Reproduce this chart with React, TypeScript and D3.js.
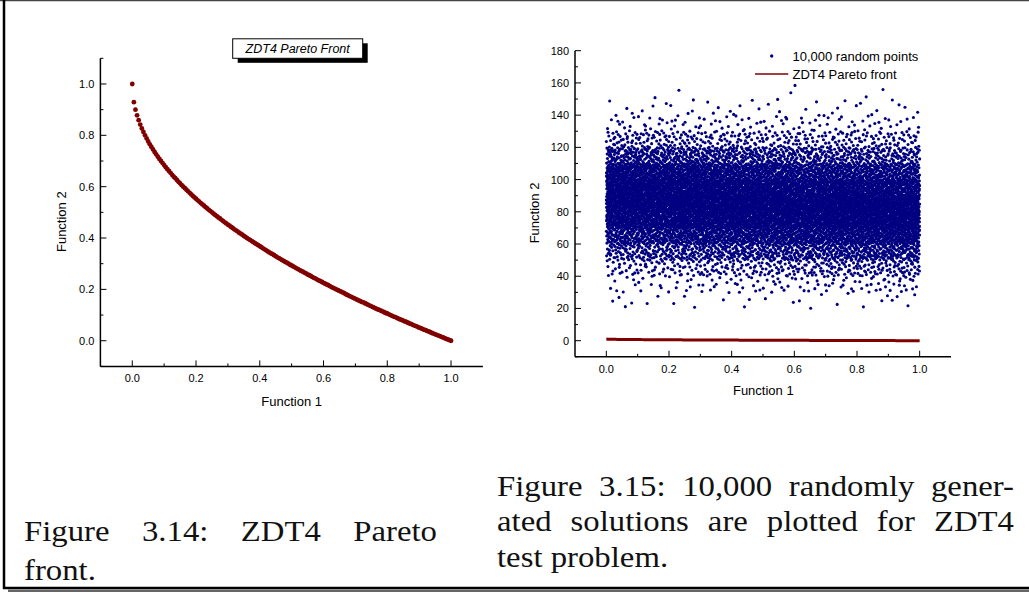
import React from "react";
import * as d3 from "d3";

// ZDT4 Pareto front (one dot every 0.005 in Function 1)
const FRONT_F1 = [
  0, 0.005, 0.01, 0.015, 0.02, 0.025, 0.03, 0.035, 0.04, 0.045, 0.05, 0.055,
  0.06, 0.065, 0.07, 0.075, 0.08, 0.085, 0.09, 0.095, 0.1, 0.105, 0.11, 0.115,
  0.12, 0.125, 0.13, 0.135, 0.14, 0.145, 0.15, 0.155, 0.16, 0.165, 0.17, 0.175,
  0.18, 0.185, 0.19, 0.195, 0.2, 0.205, 0.21, 0.215, 0.22, 0.225, 0.23, 0.235,
  0.24, 0.245, 0.25, 0.255, 0.26, 0.265, 0.27, 0.275, 0.28, 0.285, 0.29, 0.295,
  0.3, 0.305, 0.31, 0.315, 0.32, 0.325, 0.33, 0.335, 0.34, 0.345, 0.35, 0.355,
  0.36, 0.365, 0.37, 0.375, 0.38, 0.385, 0.39, 0.395, 0.4, 0.405, 0.41, 0.415,
  0.42, 0.425, 0.43, 0.435, 0.44, 0.445, 0.45, 0.455, 0.46, 0.465, 0.47, 0.475,
  0.48, 0.485, 0.49, 0.495, 0.5, 0.505, 0.51, 0.515, 0.52, 0.525, 0.53, 0.535,
  0.54, 0.545, 0.55, 0.555, 0.56, 0.565, 0.57, 0.575, 0.58, 0.585, 0.59, 0.595,
  0.6, 0.605, 0.61, 0.615, 0.62, 0.625, 0.63, 0.635, 0.64, 0.645, 0.65, 0.655,
  0.66, 0.665, 0.67, 0.675, 0.68, 0.685, 0.69, 0.695, 0.7, 0.705, 0.71, 0.715,
  0.72, 0.725, 0.73, 0.735, 0.74, 0.745, 0.75, 0.755, 0.76, 0.765, 0.77, 0.775,
  0.78, 0.785, 0.79, 0.795, 0.8, 0.805, 0.81, 0.815, 0.82, 0.825, 0.83, 0.835,
  0.84, 0.845, 0.85, 0.855, 0.86, 0.865, 0.87, 0.875, 0.88, 0.885, 0.89, 0.895,
  0.9, 0.905, 0.91, 0.915, 0.92, 0.925, 0.93, 0.935, 0.94, 0.945, 0.95, 0.955,
  0.96, 0.965, 0.97, 0.975, 0.98, 0.985, 0.99, 0.995, 1.0,
];
const FRONT_F2 = [
  1.0, 0.929, 0.9, 0.878, 0.859, 0.842, 0.827, 0.813, 0.8, 0.788, 0.776, 0.765,
  0.755, 0.745, 0.735, 0.726, 0.717, 0.708, 0.7, 0.692, 0.684, 0.676, 0.668,
  0.661, 0.654, 0.646, 0.639, 0.633, 0.626, 0.619, 0.613, 0.606, 0.6, 0.594,
  0.588, 0.582, 0.576, 0.57, 0.564, 0.558, 0.553, 0.547, 0.542, 0.536, 0.531,
  0.526, 0.52, 0.515, 0.51, 0.505, 0.5, 0.495, 0.49, 0.485, 0.48, 0.476, 0.471,
  0.466, 0.461, 0.457, 0.452, 0.448, 0.443, 0.439, 0.434, 0.43, 0.426, 0.421,
  0.417, 0.413, 0.408, 0.404, 0.4, 0.396, 0.392, 0.388, 0.384, 0.38, 0.376,
  0.372, 0.368, 0.364, 0.36, 0.356, 0.352, 0.348, 0.344, 0.34, 0.337, 0.333,
  0.329, 0.325, 0.322, 0.318, 0.314, 0.311, 0.307, 0.304, 0.3, 0.296, 0.293,
  0.289, 0.286, 0.282, 0.279, 0.275, 0.272, 0.269, 0.265, 0.262, 0.258, 0.255,
  0.252, 0.248, 0.245, 0.242, 0.238, 0.235, 0.232, 0.229, 0.225, 0.222, 0.219,
  0.216, 0.213, 0.209, 0.206, 0.203, 0.2, 0.197, 0.194, 0.191, 0.188, 0.185,
  0.181, 0.178, 0.175, 0.172, 0.169, 0.166, 0.163, 0.16, 0.157, 0.154, 0.151,
  0.149, 0.146, 0.143, 0.14, 0.137, 0.134, 0.131, 0.128, 0.125, 0.122, 0.12,
  0.117, 0.114, 0.111, 0.108, 0.106, 0.103, 0.1, 0.097, 0.094, 0.092, 0.089,
  0.086, 0.083, 0.081, 0.078, 0.075, 0.073, 0.07, 0.067, 0.065, 0.062, 0.059,
  0.057, 0.054, 0.051, 0.049, 0.046, 0.043, 0.041, 0.038, 0.036, 0.033, 0.03,
  0.028, 0.025, 0.023, 0.02, 0.018, 0.015, 0.013, 0.01, 0.007, 0.005, 0.002,
  0.0,
];

// 10,000 random points: estimated counts per cell
// one row per Function 1 bin (width 0.1), one column per Function 2 band (width 10)
const X_BINS = [0, 0.1, 0.2, 0.3, 0.4, 0.5, 0.6, 0.7, 0.8, 0.9];
const Y_BANDS = [20, 30, 40, 50, 60, 70, 80, 90, 100, 110, 120, 130, 140, 150];
const CELL_COUNTS = [
  [4, 6, 20, 52, 100, 158, 192, 192, 152, 78, 32, 10, 3, 1],
  [3, 7, 22, 56, 106, 162, 190, 186, 146, 76, 31, 11, 3, 1],
  [2, 8, 25, 60, 112, 166, 190, 180, 140, 72, 30, 10, 4, 1],
  [2, 9, 27, 64, 118, 170, 190, 175, 134, 69, 29, 9, 4, 0],
  [3, 10, 29, 68, 122, 174, 190, 170, 128, 66, 27, 9, 4, 0],
  [2, 11, 31, 72, 126, 177, 190, 166, 123, 63, 26, 9, 3, 1],
  [3, 11, 33, 76, 130, 180, 189, 162, 118, 60, 25, 9, 3, 1],
  [2, 12, 35, 79, 134, 182, 188, 158, 114, 58, 25, 9, 3, 1],
  [2, 13, 37, 82, 138, 184, 186, 154, 110, 56, 25, 9, 3, 1],
  [4, 14, 39, 85, 141, 185, 184, 150, 106, 54, 25, 9, 3, 1],
];

const LEFT_X_TICKS = [0, 0.2, 0.4, 0.6, 0.8, 1.0];
const LEFT_Y_TICKS = [0, 0.2, 0.4, 0.6, 0.8, 1.0];
const RIGHT_X_TICKS = [0, 0.2, 0.4, 0.6, 0.8, 1.0];
const RIGHT_Y_TICKS = [0, 20, 40, 60, 80, 100, 120, 140, 160, 180];

const SANS = "Liberation Sans, Arial, sans-serif";
const SERIF_NAME = "Liberation Serif";
const RED = "#800000";
const NAVY = "#000080";

// van der Corput / Halton radical inverse, used to lay the counted points out
// evenly inside their Function 1 column
function halton(i: number, b: number) {
  let f = 1;
  let r = 0;
  while (i > 0) {
    f /= b;
    r += f * (i % b);
    i = Math.floor(i / b);
  }
  return r;
}

const scatterPoints: { x: number; y: number }[] = [];
CELL_COUNTS.forEach((row, i) => {
  const total = d3.sum(row);
  const cum = [0, ...d3.cumsum(row)];
  for (let k = 0; k < total; k++) {
    const idx = k + 1 + i * total + 17;
    const u = halton(idx, 2);
    const t = halton(idx, 3) * total;
    let j = 0;
    while (j < row.length - 1 && cum[j + 1] <= t) j++;
    const y = Y_BANDS[j] + (10 * (t - cum[j])) / Math.max(row[j], 1);
    scatterPoints.push({ x: X_BINS[i] + u * 0.1, y });
  }
});

const front = FRONT_F1.map((f1, i) => ({ x: f1, y: FRONT_F2[i] }));

// caption lines: words, left edge, right edge (justified) or null (ragged), baseline
const CAPTION_LINES: { words: string[]; x0: number; x1: number | null; y: number }[] = [
  { words: ["Figure", "3.14:", "ZDT4", "Pareto"], x0: 24, x1: 437, y: 541 },
  { words: ["front."], x0: 24, x1: null, y: 580 },
  { words: ["Figure", "3.15:", "10,000", "randomly", "gener-"], x0: 497, x1: 1014, y: 496 },
  { words: ["ated", "solutions", "are", "plotted", "for", "ZDT4"], x0: 497, x1: 1014, y: 531 },
  { words: ["test", "problem."], x0: 497, x1: null, y: 567 },
];
const CAPTION_SIZE = 29;
const CAPTION_STRETCH = 1.13;

type AxisProps = {
  x: d3.ScaleLinear<number, number>;
  y: d3.ScaleLinear<number, number>;
  xTicks: number[];
  yTicks: number[];
  xMinor: number[];
  yMinor: number[];
  fmtX: (v: number) => string;
  fmtY: (v: number) => string;
};

function Axes({ x, y, xTicks, yTicks, xMinor, yMinor, fmtX, fmtY }: AxisProps) {
  const [x0, x1] = x.range();
  const [y0, y1] = y.range();
  return (
    <g>
      <line x1={x0} x2={x0} y1={y0} y2={y1} stroke="#000" strokeWidth={1.5} />
      <line x1={x0} x2={x1} y1={y0} y2={y0} stroke="#000" strokeWidth={1.5} />
      {xTicks.map((t) => (
        <g key={"xt" + t}>
          <line x1={x(t)} x2={x(t)} y1={y0} y2={y0 - 6} stroke="#000" strokeWidth={1} />
          <text x={x(t)} y={y0 + 16} textAnchor="middle" fontSize={11} fontFamily={SANS}>
            {fmtX(t)}
          </text>
        </g>
      ))}
      {xMinor.map((t) => (
        <line key={"xm" + t} x1={x(t)} x2={x(t)} y1={y0} y2={y0 - 3} stroke="#000" strokeWidth={1} />
      ))}
      {yTicks.map((t) => (
        <g key={"yt" + t}>
          <line x1={x0} x2={x0 + 6} y1={y(t)} y2={y(t)} stroke="#000" strokeWidth={1} />
          <text x={x0 - 6} y={y(t) + 4} textAnchor="end" fontSize={11} fontFamily={SANS}>
            {fmtY(t)}
          </text>
        </g>
      ))}
      {yMinor.map((t) => (
        <line key={"ym" + t} x1={x0} x2={x0 + 3} y1={y(t)} y2={y(t)} stroke="#000" strokeWidth={1} />
      ))}
    </g>
  );
}

function Caption() {
  const ctx = document.createElement("canvas").getContext("2d");
  const font = `${CAPTION_SIZE}px "${SERIF_NAME}"`;
  if (ctx) ctx.font = font;
  const measure = (s: string) =>
    (ctx ? ctx.measureText(s).width : s.length * CAPTION_SIZE * 0.45) * CAPTION_STRETCH;
  const space = measure(" ");

  const placed: { w: string; x: number; y: number }[] = [];
  CAPTION_LINES.forEach((line) => {
    const widths = line.words.map(measure);
    const n = line.words.length;
    const gap =
      line.x1 !== null && n > 1
        ? (line.x1 - line.x0 - d3.sum(widths)) / (n - 1)
        : space;
    let cx = line.x0;
    line.words.forEach((w, i) => {
      placed.push({ w, x: cx, y: line.y });
      cx += widths[i] + gap;
    });
  });

  return (
    <g>
      {placed.map((p, i) => (
        <text
          key={i}
          transform={`translate(${p.x},${p.y}) scale(${CAPTION_STRETCH},1)`}
          fontSize={CAPTION_SIZE}
          fontFamily={`${SERIF_NAME}, serif`}
          fill="#111"
        >
          {p.w}
        </text>
      ))}
    </g>
  );
}

export default function App() {
  // left plot: Pareto front
  const lx = d3.scaleLinear().domain([-0.1, 1.1]).range([100.4, 482.9]);
  const ly = d3.scaleLinear().domain([-0.1, 1.1]).range([366.4, 58.3]);

  // right plot: random points
  const rx = d3.scaleLinear().domain([-0.1, 1.1]).range([575, 951]);
  const ry = d3.scaleLinear().domain([-10, 180]).range([356.8, 50.7]);

  const frontLine = d3
    .line<{ x: number; y: number }>()
    .x((d) => rx(d.x))
    .y((d) => ry(d.y));

  const f1 = d3.format(".1f");

  return (
    <div style={{ position: "absolute", left: 0, top: 0 }}>
      <svg width={1029} height={593} style={{ display: "block", background: "#fff" }}>
        {/* page frame */}
        <line x1={0} x2={1029} y1={0.5} y2={0.5} stroke="#444" strokeWidth={1.5} />
        <line x1={4} x2={4} y1={0} y2={589} stroke="#000" strokeWidth={2.5} />
        <line x1={3} x2={1029} y1={588} y2={588} stroke="#000" strokeWidth={2.5} />
        <line x1={8} x2={1029} y1={590.8} y2={590.8} stroke="#666" strokeWidth={2.5} />

        {/* ---- left chart ---- */}
        <Axes
          x={lx}
          y={ly}
          xTicks={LEFT_X_TICKS}
          yTicks={LEFT_Y_TICKS}
          xMinor={[0.1, 0.3, 0.5, 0.7, 0.9]}
          yMinor={[-0.1, 0.1, 0.3, 0.5, 0.7, 0.9, 1.1]}
          fmtX={f1}
          fmtY={f1}
        />
        {front.map((d, i) => (
          <circle key={i} cx={lx(d.x)} cy={ly(d.y)} r={2.4} fill={RED} />
        ))}
        <text x={291.7} y={406} textAnchor="middle" fontSize={13} fontFamily={SANS}>
          Function 1
        </text>
        <text
          transform={`translate(66,${221.7}) rotate(-90)`}
          textAnchor="middle"
          fontSize={13}
          fontFamily={SANS}
        >
          Function 2
        </text>
        <rect x={237.7} y={43.3} width={130} height={19.5} fill="#000" />
        <rect x={232.7} y={38.8} width={130} height={19.5} fill="#fff" stroke="#000" strokeWidth={1} />
        <text x={297.7} y={53} textAnchor="middle" fontSize={12.5} fontStyle="italic" fontFamily={SANS}>
          ZDT4 Pareto Front
        </text>

        {/* ---- right chart ---- */}
        <Axes
          x={rx}
          y={ry}
          xTicks={RIGHT_X_TICKS}
          yTicks={RIGHT_Y_TICKS}
          xMinor={[0.1, 0.3, 0.5, 0.7, 0.9]}
          yMinor={[-10, 10, 30, 50, 70, 90, 110, 130, 150, 170]}
          fmtX={f1}
          fmtY={(v) => String(v)}
        />
        {scatterPoints.map((d, i) => (
          <circle key={i} cx={rx(d.x)} cy={ry(d.y)} r={1.55} fill={NAVY} />
        ))}
        <path d={frontLine(front) || ""} fill="none" stroke={RED} strokeWidth={3} />
        <text x={763.3} y={395} textAnchor="middle" fontSize={13} fontFamily={SANS}>
          Function 1
        </text>
        <text
          transform={`translate(538.5,${213}) rotate(-90)`}
          textAnchor="middle"
          fontSize={13}
          fontFamily={SANS}
        >
          Function 2
        </text>
        {/* legend */}
        <circle cx={771.7} cy={56} r={1.7} fill={NAVY} />
        <text x={792.5} y={60.5} fontSize={13} fontFamily={SANS}>
          10,000 random points
        </text>
        <line x1={755} x2={788.3} y1={74} y2={74} stroke={RED} strokeWidth={1.5} />
        <text x={792.5} y={78.5} fontSize={13} fontFamily={SANS}>
          ZDT4 Pareto front
        </text>

        {/* ---- captions ---- */}
        <Caption />
      </svg>
    </div>
  );
}
